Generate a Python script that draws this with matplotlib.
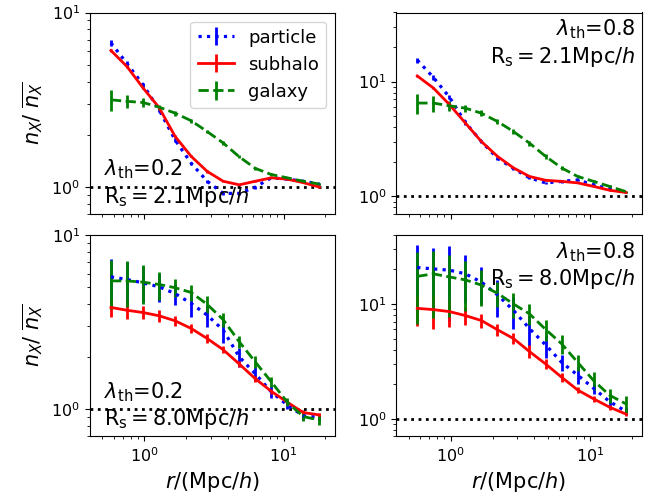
import numpy as np
import matplotlib
matplotlib.use('Agg')
import matplotlib.pyplot as plt

# =============================================================================
# DATA
# =============================================================================
r = [0.575, 0.750, 0.980, 1.276, 1.663, 2.168, 2.825, 3.681, 4.808, 6.266,
     8.166, 10.64, 13.87, 18.11]

# top-left: lambda_th = 0.2, Rs = 2.1
p_tl  = [6.7, 5.1, 3.85, 2.77, 1.86, 1.37, 1.08, 0.92, 0.92, 1.0, 1.13, 1.11, 1.08, 1.04]
pe_tl = [0.25, 0.2, 0.12, 0.08, 0.05, 0.03, 0.02, 0.02, 0.02, 0.02, 0.01, 0.01, 0.01, 0.01]
s_tl  = [6.06, 4.9, 3.69, 2.85, 1.95, 1.5, 1.23, 1.08, 1.03, 1.08, 1.13, 1.11, 1.06, 1.0]
se_tl = [0.15, 0.1, 0.06, 0.04, 0.03, 0.02, 0.02, 0.01, 0.01, 0.01, 0.01, 0.01, 0.01, 0.01]
g_tl  = [3.16, 3.1, 3.05, 2.87, 2.65, 2.4, 2.08, 1.79, 1.49, 1.28, 1.18, 1.13, 1.08, 1.04]
ge_tl = [0.45, 0.28, 0.17, 0.1, 0.08, 0.06, 0.05, 0.04, 0.03, 0.02, 0.02, 0.01, 0.01, 0.01]

# top-right: lambda_th = 0.8, Rs = 2.1
p_tr  = [15.4, 10.9, 7.3, 4.4, 3.0, 2.15, 1.75, 1.45, 1.31, 1.35, 1.39, 1.26, 1.16, 1.09]
pe_tr = [0.8, 0.5, 0.3, 0.2, 0.1, 0.06, 0.05, 0.04, 0.03, 0.03, 0.03, 0.02, 0.02, 0.01]
s_tr  = [11.2, 8.8, 6.3, 4.35, 3.0, 2.23, 1.77, 1.49, 1.38, 1.35, 1.31, 1.22, 1.13, 1.08]
se_tr = [0.3, 0.2, 0.1, 0.06, 0.04, 0.03, 0.02, 0.02, 0.01, 0.01, 0.01, 0.01, 0.01, 0.01]
g_tr  = [6.5, 6.5, 6.15, 5.87, 5.3, 4.49, 3.67, 2.91, 2.23, 1.77, 1.49, 1.35, 1.22, 1.1]
ge_tr = [1.3, 1.05, 0.6, 0.4, 0.3, 0.25, 0.2, 0.15, 0.1, 0.06, 0.05, 0.04, 0.03, 0.02]

# bottom-left: lambda_th = 0.2, Rs = 8.0
p_bl  = [5.75, 5.55, 5.31, 5.04, 4.61, 4.05, 3.47, 2.85, 2.0, 1.6, 1.26, 1.06, 0.92, 0.9]
pe_bl = [1.5, 1.4, 1.2, 0.9, 0.65, 0.65, 0.5, 0.44, 0.25, 0.15, 0.1, 0.06, 0.05, 0.04]
s_bl  = [3.84, 3.7, 3.59, 3.44, 3.22, 2.91, 2.55, 2.2, 1.82, 1.5, 1.27, 1.1, 0.96, 0.93]
se_bl = [0.47, 0.4, 0.3, 0.25, 0.2, 0.17, 0.15, 0.1, 0.08, 0.06, 0.04, 0.03, 0.03, 0.02]
g_bl  = [5.45, 5.45, 5.36, 5.2, 4.98, 4.68, 4.0, 3.27, 2.44, 1.87, 1.44, 1.1, 0.91, 0.87]
ge_bl = [1.7, 1.6, 1.35, 0.95, 0.6, 0.5, 0.45, 0.3, 0.2, 0.15, 0.1, 0.06, 0.05, 0.05]

# bottom-right: lambda_th = 0.8, Rs = 8.0
p_br  = [20.8, 20.2, 19.7, 18.3, 15.5, 12.0, 8.8, 6.1, 4.4, 3.1, 2.4, 1.84, 1.41, 1.16]
pe_br = [12.0, 10.7, 12.6, 8.2, 5.5, 4.3, 2.7, 1.8, 1.0, 0.5, 0.4, 0.2, 0.14, 0.08]
s_br  = [9.16, 8.93, 8.58, 7.92, 7.17, 5.96, 5.0, 3.85, 3.0, 2.3, 1.78, 1.49, 1.26, 1.1]
se_br = [2.7, 2.85, 2.3, 1.4, 1.0, 0.7, 0.55, 0.5, 0.3, 0.2, 0.12, 0.08, 0.06, 0.05]
g_br  = [17.4, 18.3, 17.2, 16.2, 14.6, 12.4, 10.0, 8.2, 6.0, 4.5, 3.1, 2.15, 1.6, 1.35]
ge_br = [10.7, 10.8, 9.5, 7.5, 5.0, 3.0, 2.4, 1.7, 1.2, 0.85, 0.5, 0.38, 0.22, 0.22]

lam_vals = ['0.2', '0.8', '0.2', '0.8']
rs_vals  = ['2.1', '2.1', '8.0', '8.0']

panels = [(p_tl, pe_tl, s_tl, se_tl, g_tl, ge_tl),
          (p_tr, pe_tr, s_tr, se_tr, g_tr, ge_tr),
          (p_bl, pe_bl, s_bl, se_bl, g_bl, ge_bl),
          (p_br, pe_br, s_br, se_br, g_br, ge_br)]

# =============================================================================
# PLOT
# =============================================================================
fig, axs = plt.subplots(2, 2, figsize=(6.6, 5.0), dpi=100, sharex=True)
fig.subplots_adjust(left=0.136, right=0.972, bottom=0.127, top=0.975,
                    wspace=0.248, hspace=0.103)

lw = 2.0
for k, ax in enumerate(axs.flat):
    p, pe, s, se, g, ge = panels[k]
    ax.errorbar(r, p, yerr=pe, fmt=':', color='b', lw=lw + 0.3, elinewidth=lw, label='particle')
    ax.errorbar(r, s, yerr=se, fmt='-', color='r', lw=lw, elinewidth=lw, label='subhalo')
    ax.errorbar(r, g, yerr=ge, fmt='--', color='g', lw=lw, elinewidth=lw, label='galaxy')
    ax.axhline(1.0, color='k', ls=':', lw=lw)

    ax.set_xscale('log')
    ax.set_yscale('log')
    ax.set_xlim(0.405, 23.5)
    if k % 2 == 0:
        ax.set_ylim(0.7, 10)
        ax.set_ylabel(r'$n_X/\ \overline{n_X}$', fontsize=15)
        ax.text(0.06, 0.025, r'$\lambda_{\rm th}$=' + lam_vals[k] + '\n'
                + r'$\mathrm{R_s = ' + rs_vals[k] + r'Mpc}/h$',
                transform=ax.transAxes, ha='left', va='bottom', fontsize=15)
    else:
        ax.set_ylim(0.7, 40)
        ax.text(0.975, 0.975, r'$\lambda_{\rm th}$=' + lam_vals[k] + '\n'
                + r'$\mathrm{R_s = ' + rs_vals[k] + r'Mpc}/h$',
                transform=ax.transAxes, ha='right', va='top', fontsize=15,
                multialignment='right')
    if k >= 2:
        ax.set_xlabel(r'$r/(\mathrm{Mpc}/h)$', fontsize=15)
    ax.tick_params(which='both', labelsize=11.5)

axs[0, 0].legend(loc='upper right', fontsize=13)

plt.savefig('out.png', dpi=100)
